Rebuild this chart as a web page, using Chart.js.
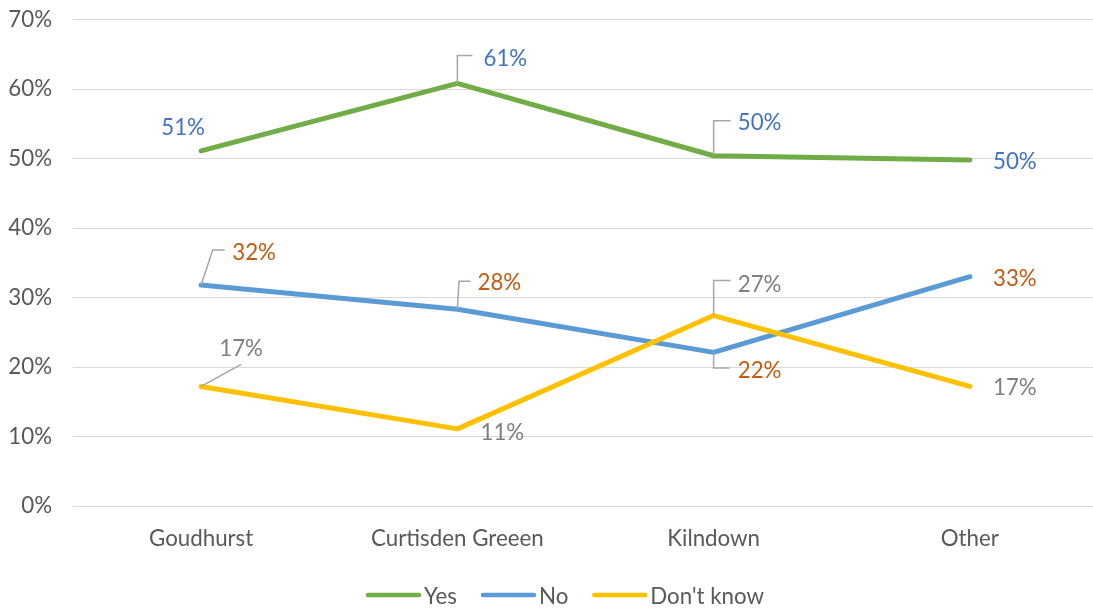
<!DOCTYPE html>
<html>
<head>
<meta charset="utf-8">
<script src="https://cdn.jsdelivr.net/npm/chart.js@4.4.1/dist/chart.umd.min.js"></script>
<style>
  html, body { margin: 0; padding: 0; background: #fff; overflow: hidden; }
  #wrap { width: 1100px; height: 608px; position: relative; }
</style>
</head>
<body>
<div id="wrap"><canvas id="chartVotos"></canvas></div>
<script>
// dados
const categories = ['Goudhurst', 'Curtisden Greeen', 'Kilndown', 'Other'];
const yesValues = [51.1, 60.8, 50.4, 49.8];
const noValues = [31.8, 28.3, 22.1, 33.0];
const dontKnowValues = [17.2, 11.1, 27.4, 17.2];
const seriesNames = ['Yes', 'No', "Don't know"];
const yMin = 0, yMax = 70, yStep = 10;

const FONT = 'Lato, "Open Sans", sans-serif';
const FONT_SIZE = 22.3;
const lineColors = ['#70AD47', '#5B9BD5', '#FFC000'];
const labelColors = ['#4472C4', '#C55A11', '#7F7F7F'];

// posição das etiquetas (relativa ao ponto) e linhas de chamada
const labelPlacement = [
    [{ dx: -18, dy: -24 },
     { dx: 48, dy: -26, leader: [[0, -28], [15, -28]] },
     { dx: 46, dy: -34, leader: [[0, -35], [17, -35]] },
     { dx: 45, dy: 1 }],
    [{ dx: 53, dy: -33, leader: [[11.6, -35], [23.6, -35]] },
     { dx: 42, dy: -28, leader: [[1.6, -28], [13, -28]] },
     { dx: 46, dy: 17, leader: [[0, 15.6], [16, 15.6]] },
     { dx: 45, dy: 1 }],
    [{ dx: 40, dy: -39, leader: [[40, -22]] },
     { dx: 45, dy: 3 },
     { dx: 46, dy: -32, leader: [[0, -35], [17, -35]] },
     { dx: 45, dy: 0 }]
];

const dataLabels = {
    id: 'dataLabels',
    afterDatasetsDraw(chart) {
        const ctx = chart.ctx;
        ctx.save();
        ctx.font = FONT_SIZE + 'px ' + FONT;
        const asc = ctx.measureText('0').actualBoundingBoxAscent;
        chart.data.datasets.forEach((ds, i) => {
            const meta = chart.getDatasetMeta(i);
            meta.data.forEach((pt, j) => {
                const p = labelPlacement[i][j];
                if (p.leader) {
                    ctx.strokeStyle = '#A6A6A6';
                    ctx.lineWidth = 1.5;
                    ctx.beginPath();
                    ctx.moveTo(pt.x, pt.y);
                    p.leader.forEach(([lx, ly]) => ctx.lineTo(pt.x + lx, pt.y + ly));
                    ctx.stroke();
                }
                ctx.fillStyle = labelColors[i];
                ctx.textAlign = 'center';
                ctx.textBaseline = 'alphabetic';
                ctx.fillText(Math.round(ds.data[j]) + '%', pt.x + p.dx, pt.y + p.dy + asc / 2);
            });
        });
        ctx.restore();
    }
};

const lineLegend = {
    id: 'lineLegend',
    afterDraw(chart) {
        const ctx = chart.ctx;
        ctx.save();
        ctx.font = FONT_SIZE + 'px ' + FONT;
        const asc = ctx.measureText('Y').actualBoundingBoxAscent;
        const boxW = 55, gap = 3, itemGap = 24;
        const widths = seriesNames.map(n => boxW + gap + ctx.measureText(n).width);
        const total = widths.reduce((a, b) => a + b, 0) + itemGap * (widths.length - 1);
        let x = 565 - total / 2;
        const y = 595;
        seriesNames.forEach((n, i) => {
            ctx.strokeStyle = lineColors[i];
            ctx.lineWidth = 4.5;
            ctx.lineCap = 'round';
            ctx.beginPath();
            ctx.moveTo(x + 2, y);
            ctx.lineTo(x + boxW - 2, y);
            ctx.stroke();
            ctx.fillStyle = '#595959';
            ctx.textAlign = 'left';
            ctx.textBaseline = 'alphabetic';
            ctx.fillText(n, x + boxW + gap, y + asc / 2);
            x += widths[i] + itemGap;
        });
        ctx.restore();
    }
};

const values = [yesValues, noValues, dontKnowValues];

new Chart(document.getElementById('chartVotos'), {
    type: 'line',
    data: {
        labels: categories,
        datasets: seriesNames.map((name, i) => ({
            label: name,
            data: values[i],
            borderColor: lineColors[i],
            backgroundColor: lineColors[i],
            borderWidth: 5,
            borderCapStyle: 'round',
            borderJoinStyle: 'round',
            pointRadius: 0,
            tension: 0,
            order: 2 - i
        }))
    },
    options: {
        responsive: true,
        maintainAspectRatio: false,
        animation: false,
        layout: { padding: { left: 0, right: 2, top: 19.5, bottom: 42 } },
        plugins: {
            legend: { display: false },
            tooltip: { enabled: false }
        },
        scales: {
            x: {
                offset: true,
                grid: { display: false },
                border: { display: false },
                ticks: {
                    color: '#595959',
                    font: { family: FONT, size: FONT_SIZE },
                    padding: 11,
                    maxRotation: 0
                },
                afterFit(scale) { scale.height = 60; }
            },
            y: {
                min: yMin,
                max: yMax,
                grid: { color: '#D9D9D9', lineWidth: 1, drawTicks: false },
                border: { display: false },
                ticks: {
                    stepSize: yStep,
                    color: '#595959',
                    font: { family: FONT, size: FONT_SIZE },
                    padding: 21,
                    callback: v => v + '%'
                },
                afterFit(scale) {
                    scale.width = 73;
                    scale.paddingTop = 0;
                    scale.paddingBottom = 0;
                }
            }
        }
    },
    plugins: [dataLabels, lineLegend]
});
</script>
</body>
</html>
